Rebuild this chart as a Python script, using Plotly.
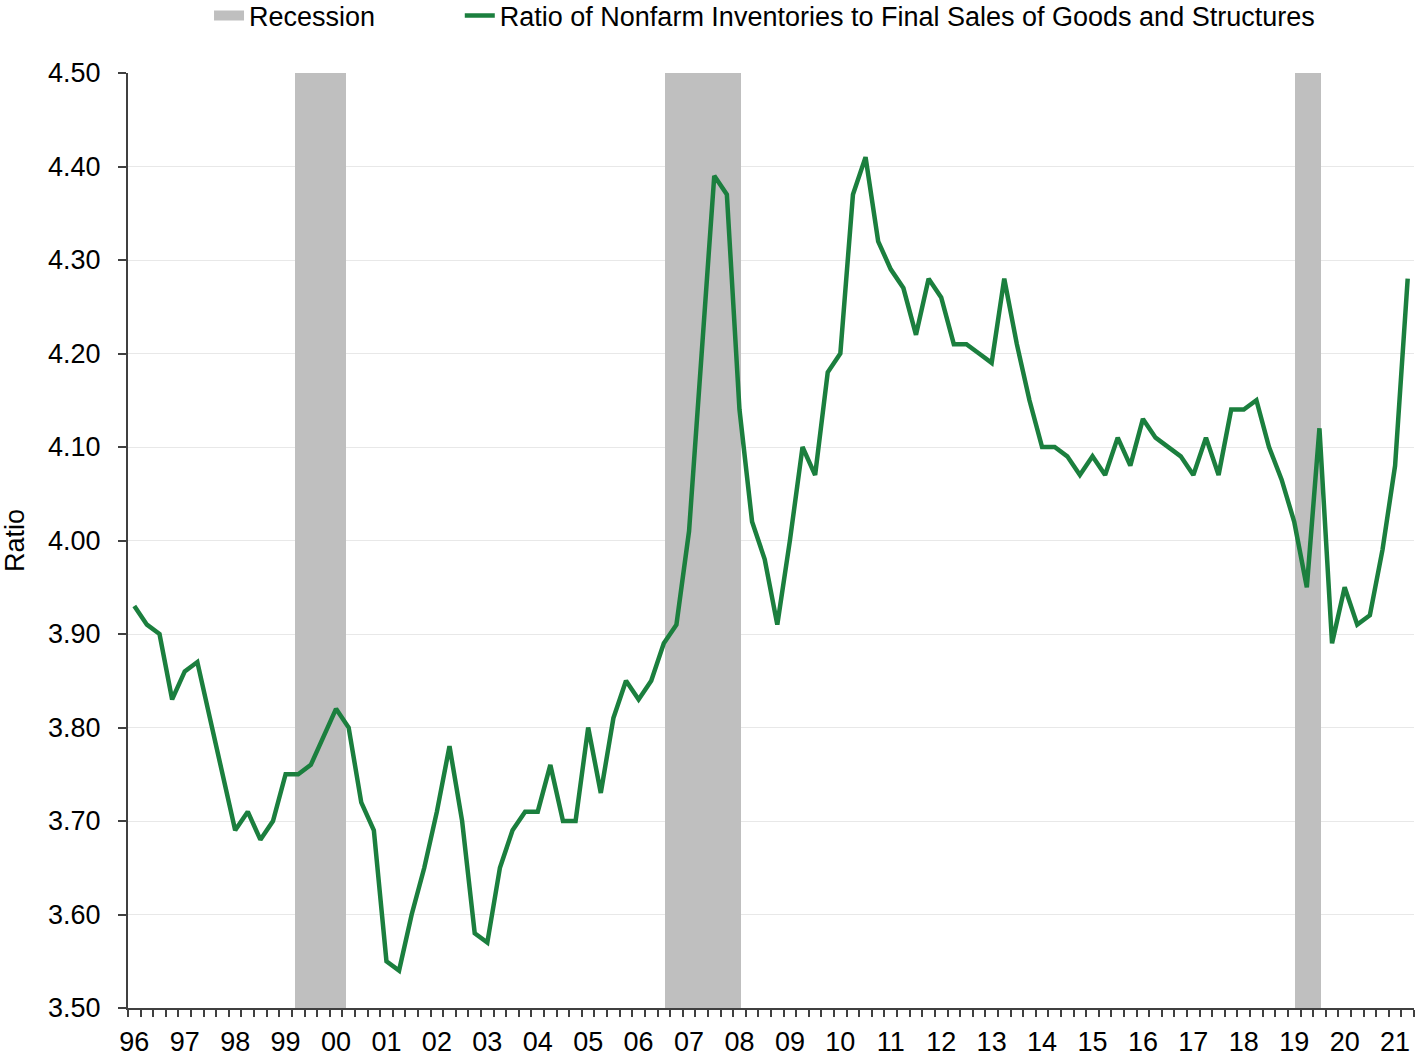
import plotly.graph_objects as go

years = ["96","97","98","99","00","01","02","03","04","05","06","07","08","09",
         "10","11","12","13","14","15","16","17","18","19","20","21"]

ratio = [3.93,3.91,3.90,3.83, 3.86,3.87,3.81,3.75, 3.69,3.71,3.68,3.70,
         3.75,3.75,3.76,3.79, 3.82,3.80,3.72,3.69, 3.55,3.54,3.60,3.65,
         3.71,3.78,3.70,3.58, 3.57,3.65,3.69,3.71, 3.71,3.76,3.70,3.70,
         3.80,3.73,3.81,3.85, 3.83,3.85,3.89,3.91, 4.01,4.20,4.39,4.37,
         4.14,4.02,3.98,3.91, 4.00,4.10,4.07,4.18, 4.20,4.37,4.41,4.32,
         4.29,4.27,4.22,4.28, 4.26,4.21,4.21,4.20, 4.19,4.28,4.21,4.15,
         4.10,4.10,4.09,4.07, 4.09,4.07,4.11,4.08, 4.13,4.11,4.10,4.09,
         4.07,4.11,4.07,4.14, 4.14,4.15,4.10,4.065, 4.02,3.95,4.12,3.89,
         3.95,3.91,3.92,3.99, 4.08,4.28]

# recession periods in quarter-index units (start, end)
rec_start = [12.72, 42.1, 92.1]
rec_end = [16.76, 48.1, 94.15]

quarters = list(range(len(ratio)))
rec_x = [(a + b) / 2 for a, b in zip(rec_start, rec_end)]
rec_w = [b - a for a, b in zip(rec_start, rec_end)]
ymin, ymax = 3.5, 4.5

FONT = "Liberation Sans, Arial, Helvetica, sans-serif"
FS = 27
GRAY = "#bfbfbf"
fig = go.Figure()
fig.add_trace(go.Bar(
    x=rec_x, y=[ymax - ymin] * len(rec_x), base=ymin, width=rec_w,
    marker=dict(color=GRAY, line=dict(width=0)),
    name="Recession", showlegend=False, hoverinfo="skip"))
# legend entry for the recession shading (drawn as a wide gray swatch)
fig.add_trace(go.Scatter(
    x=[None], y=[None], mode="lines", line=dict(color=GRAY, width=15),
    name="Recession", showlegend=True, legend="legend"))
fig.add_trace(go.Scatter(
    x=quarters, y=ratio, mode="lines",
    line=dict(color="#1b7f3e", width=4.5),
    name="Ratio of Nonfarm Inventories to Final Sales of Goods and Structures",
    legend="legend2"))

leg_common = dict(orientation="h", xanchor="left", yref="container",
                  y=1 - 16 / 1060, yanchor="middle", font=dict(size=FS),
                  itemwidth=30, bgcolor="rgba(0,0,0,0)")
fig.update_layout(
    width=1418, height=1060,
    margin=dict(l=128, r=4, t=73, b=52, autoexpand=False),
    paper_bgcolor="white", plot_bgcolor="white",
    font=dict(family=FONT, size=FS, color="black"),
    showlegend=True,
    legend=dict(x=0.063, **leg_common),
    legend2=dict(x=0.258, **leg_common),
    bargap=0,
)
fig.update_xaxes(
    range=[-0.5, len(ratio) - 0.5],
    tickmode="array", tickvals=[i * 4 for i in range(len(years))], ticktext=years,
    ticks="outside", ticklen=9, tickcolor="rgba(0,0,0,0)",
    showgrid=False, zeroline=False,
    showline=True, linecolor="#404040", linewidth=2,
    tickfont=dict(size=FS),
    minor=dict(ticks="outside", ticklen=7, tickmode="linear", tick0=-0.5, dtick=1,
               tickcolor="#404040", tickwidth=1.5, showgrid=False),
)
fig.update_yaxes(
    range=[ymin, ymax], tickmode="linear", tick0=3.5, dtick=0.1, tickformat=".2f",
    ticks="outside", ticklen=8, tickcolor="#404040", tickwidth=1.5,
    showgrid=True, gridcolor="#e8e8e8", gridwidth=1, zeroline=False,
    showline=True, linecolor="#404040", linewidth=2,
    ticklabelstandoff=12,
    title=dict(text="Ratio", font=dict(size=FS), standoff=16),
)
fig.write_html("out.html")
